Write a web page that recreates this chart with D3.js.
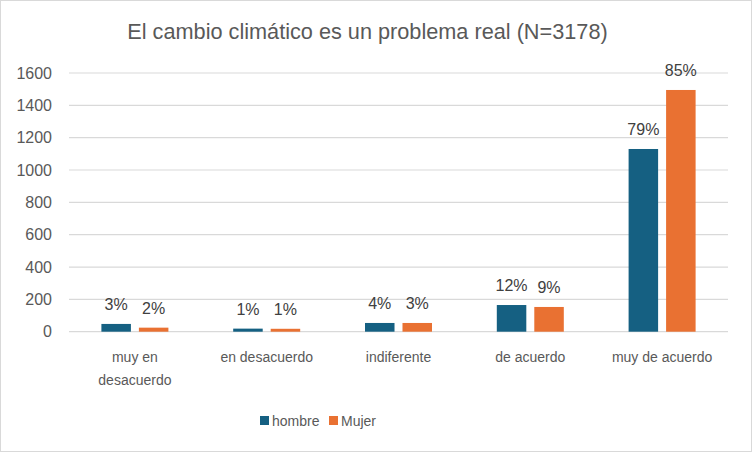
<!DOCTYPE html>
<html>
<head>
<meta charset="utf-8">
<script src="https://cdn.jsdelivr.net/npm/d3@7"></script>
<style>
  body { margin: 0; background: #fff; }
  svg { display: block; font-family: "Liberation Sans", Arial, sans-serif; }
</style>
</head>
<body>
<svg id="chart" width="752" height="452"></svg>
<script>
// data
const categories = ["muy en desacuerdo", "en desacuerdo", "indiferente", "de acuerdo", "muy de acuerdo"];
const series = ["hombre", "Mujer"];
const hombre = [48, 19, 54, 165, 1130];
const mujer = [25, 18, 54, 153, 1495];
const hombreLabels = ["3%", "1%", "4%", "12%", "79%"];
const mujerLabels = ["2%", "1%", "3%", "9%", "85%"];
const yTicks = [0, 200, 400, 600, 800, 1000, 1200, 1400, 1600];
const colors = ["#156082", "#E97132"];

const svg = d3.select("#chart");
const W = 752, H = 452;

// border
svg.append("rect")
  .attr("x", 0.5).attr("y", 0.5)
  .attr("width", W - 1).attr("height", H - 1)
  .attr("fill", "#fff").attr("stroke", "#d9d9d9");

const margin = { left: 69, right: 24, top: 73, bottom: 120 };

const x = d3.scaleBand()
  .domain(categories)
  .range([margin.left, W - margin.right]);

const x1 = d3.scaleBand()
  .domain(series)
  .range([-33.5, 33.5])
  .paddingInner(0.213);

const y = d3.scaleLinear()
  .domain([0, 1600])
  .range([331.7, 73]);

// gridlines
svg.append("g")
  .selectAll("line")
  .data(yTicks)
  .join("line")
  .attr("x1", margin.left)
  .attr("x2", W - margin.right)
  .attr("y1", d => y(d))
  .attr("y2", d => y(d))
  .attr("stroke", "#d9d9d9")
  .attr("stroke-width", 1.2);

// y tick labels
svg.append("g")
  .selectAll("text")
  .data(yTicks)
  .join("text")
  .attr("x", 52)
  .attr("y", d => y(d))
  .attr("dy", "0.35em")
  .attr("text-anchor", "end")
  .attr("fill", "#595959")
  .attr("font-size", 16)
  .text(d => d);

// bars
const rows = categories.map((c, i) => ({
  cat: c,
  vals: [
    { s: "hombre", v: hombre[i], lab: hombreLabels[i] },
    { s: "Mujer", v: mujer[i], lab: mujerLabels[i] }
  ]
}));

const groups = svg.append("g")
  .selectAll("g")
  .data(rows)
  .join("g")
  .attr("transform", d => `translate(${x(d.cat) + x.bandwidth() / 2},0)`);

groups.selectAll("rect")
  .data(d => d.vals)
  .join("rect")
  .attr("x", d => x1(d.s))
  .attr("width", x1.bandwidth())
  .attr("y", d => y(d.v))
  .attr("height", d => y(0) - y(d.v))
  .attr("fill", (d, i) => colors[i]);

groups.selectAll("text")
  .data(d => d.vals)
  .join("text")
  .attr("x", d => x1(d.s) + x1.bandwidth() / 2)
  .attr("y", d => y(d.v) - 14)
  .attr("text-anchor", "middle")
  .attr("fill", "#404040")
  .attr("font-size", 16)
  .text(d => d.lab);

// category labels (wrap first one)
const catLines = { "muy en desacuerdo": ["muy en", "desacuerdo"] };
svg.append("g")
  .selectAll("text")
  .data(categories)
  .join("text")
  .attr("x", d => x(d) + x.bandwidth() / 2)
  .attr("y", 362)
  .attr("text-anchor", "middle")
  .attr("fill", "#595959")
  .attr("font-size", 14)
  .each(function (d) {
    const lines = catLines[d] || [d];
    d3.select(this).selectAll("tspan")
      .data(lines)
      .join("tspan")
      .attr("x", x(d) + x.bandwidth() / 2)
      .attr("dy", (l, i) => i === 0 ? 0 : 23)
      .text(l => l);
  });

// legend
const legend = svg.append("g");
const legendX = [260, 329];
series.forEach((s, i) => {
  legend.append("rect")
    .attr("x", legendX[i]).attr("y", 416)
    .attr("width", 9).attr("height", 9)
    .attr("fill", colors[i]);
  legend.append("text")
    .attr("x", legendX[i] + 12).attr("y", 421)
    .attr("dy", "0.35em")
    .attr("fill", "#595959")
    .attr("font-size", 14)
    .text(s);
});

// title
svg.append("text")
  .attr("x", 367.5)
  .attr("y", 31)
  .attr("dy", "0.35em")
  .attr("text-anchor", "middle")
  .attr("fill", "#595959")
  .attr("font-size", 21.7)
  .text("El cambio climático es un problema real (N=3178)");
</script>
</body>
</html>
